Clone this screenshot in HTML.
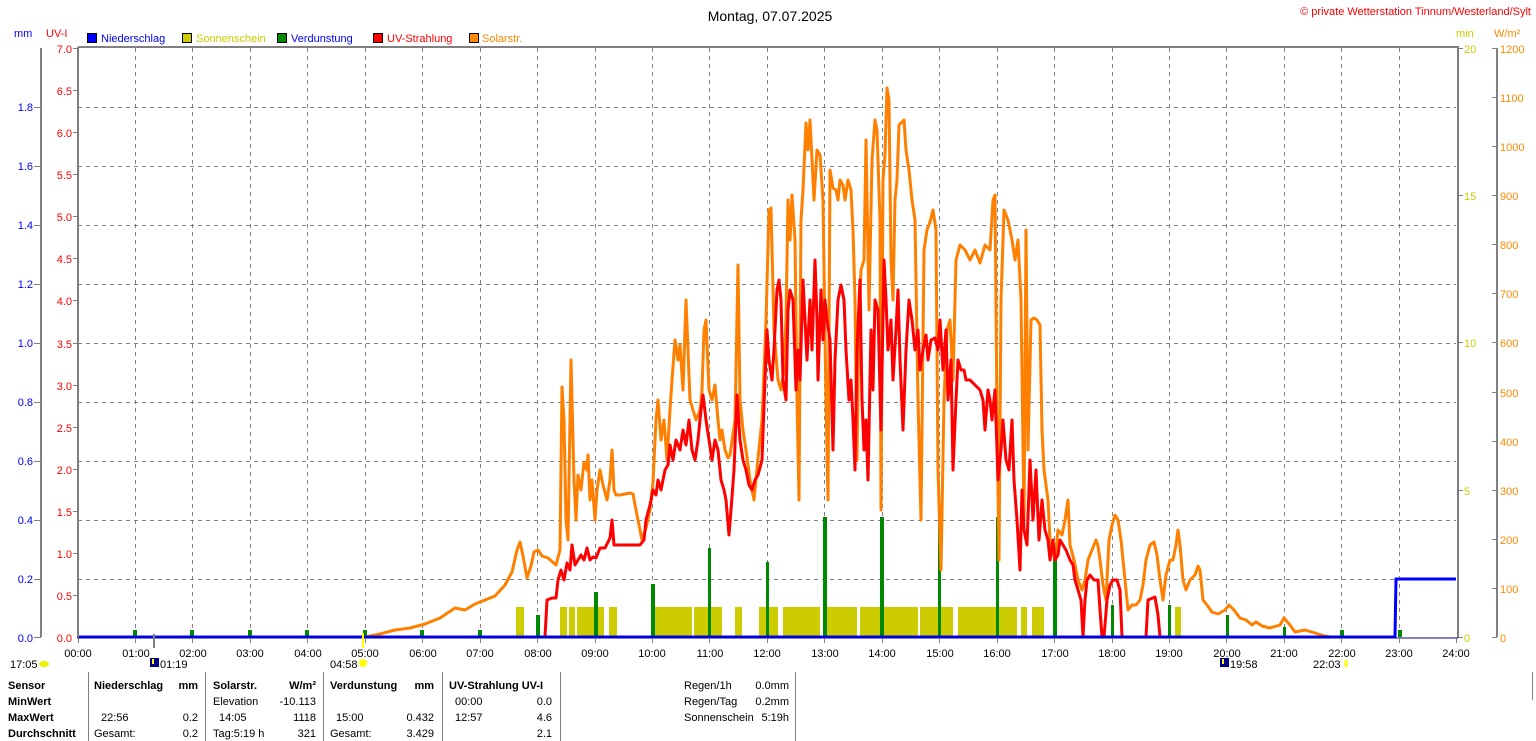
<!DOCTYPE html>
<html><head><meta charset="utf-8"><style>
html,body{margin:0;padding:0;background:#fff;}
svg{display:block;font-family:"Liberation Sans",Arial,sans-serif;font-size:11px;}
.b{font-weight:bold;}
</style></head><body>
<svg width="1536" height="741" viewBox="0 0 1536 741" xmlns="http://www.w3.org/2000/svg">
<rect width="1536" height="741" fill="#fff"/>
<text x="770" y="21" font-size="14" text-anchor="middle" fill="#000">Montag, 07.07.2025</text>
<text x="1531" y="15" text-anchor="end" fill="#f00">© private Wetterstation Tinnum/Westerland/Sylt</text>
<text x="14" y="37" fill="#00f">mm</text>
<text x="46" y="37" fill="#f00">UV-I</text>
<g stroke="#000" stroke-width="1">
<rect x="87.5" y="33.5" width="9" height="9" fill="#00f"/>
<rect x="182.5" y="33.5" width="9" height="9" fill="#cc0"/>
<rect x="277.5" y="33.5" width="9" height="9" fill="#080"/>
<rect x="373.5" y="33.5" width="9" height="9" fill="#f00"/>
<rect x="469.5" y="33.5" width="9" height="9" fill="#f80"/>
</g>
<text x="101" y="42" fill="#00f">Niederschlag</text>
<text x="196" y="42" fill="#cc0">Sonnenschein</text>
<text x="291" y="42" fill="#00f">Verdunstung</text>
<text x="387" y="42" fill="#f00">UV-Strahlung</text>
<text x="482" y="42" fill="#f80">Solarstr.</text>
<text x="1456" y="37" fill="#cc0">min</text>
<text x="1494" y="37" fill="#f80">W/m²</text>

<g stroke="#808080" stroke-width="1" stroke-dasharray="4,4" fill="none">
<path d="M78 107.5H1456M78 166.5H1456M78 225.5H1456M78 284.5H1456M78 343.5H1456M78 402.5H1456M78 461.5H1456M78 520.5H1456M78 579.5H1456"/>
<path d="M135.5 48V637M192.5 48V637M250.5 48V637M307.5 48V637M365.5 48V637M422.5 48V637M480.5 48V637M537.5 48V637M595.5 48V637M652.5 48V637M709.5 48V637M767.5 48V637M824.5 48V637M882.5 48V637M939.5 48V637M997.5 48V637M1054.5 48V637M1112.5 48V637M1169.5 48V637M1226.5 48V637M1284.5 48V637M1341.5 48V637M1399.5 48V637"/>
</g>

<!-- sunshine -->
<g fill="#cc0">
<rect x="516" y="607" width="8" height="30"/><rect x="560" y="607" width="7" height="30"/><rect x="569" y="607" width="6" height="30"/><rect x="577" y="607" width="27" height="30"/><rect x="609" y="607" width="8" height="30"/><rect x="654" y="607" width="38" height="30"/><rect x="694" y="607" width="28" height="30"/><rect x="735" y="607" width="7" height="30"/><rect x="759" y="607" width="19" height="30"/><rect x="783" y="607" width="37" height="30"/><rect x="823" y="607" width="34" height="30"/><rect x="860" y="607" width="58" height="30"/><rect x="920" y="607" width="33" height="30"/><rect x="958" y="607" width="59" height="30"/><rect x="1021" y="607" width="6" height="30"/><rect x="1032" y="607" width="12" height="30"/><rect x="1175" y="607" width="6" height="30"/>
</g>
<!-- evaporation -->
<g fill="#080">
<rect x="133" y="630" width="4" height="7"/><rect x="190" y="630" width="4" height="7"/><rect x="248" y="630" width="4" height="7"/><rect x="305" y="630" width="4" height="7"/><rect x="363" y="630" width="4" height="7"/><rect x="420" y="630" width="4" height="7"/><rect x="478" y="630" width="4" height="7"/>
<rect x="536" y="615" width="4" height="22"/><rect x="594" y="592" width="4" height="45"/><rect x="651" y="584" width="4" height="53"/><rect x="708" y="548" width="3" height="89"/><rect x="766" y="562" width="3" height="75"/><rect x="823" y="517" width="4" height="120"/><rect x="880" y="517" width="4" height="120"/><rect x="938" y="511" width="3" height="126"/><rect x="996" y="517" width="3" height="120"/><rect x="1053" y="555" width="4" height="82"/><rect x="1111" y="605" width="3" height="32"/><rect x="1168" y="605" width="3" height="32"/><rect x="1226" y="615" width="3" height="22"/><rect x="1283" y="627" width="3" height="10"/><rect x="1340" y="630" width="4" height="7"/><rect x="1398" y="630" width="4" height="7"/>
</g>

<polyline fill="none" stroke="#ff8000" stroke-width="3" stroke-linejoin="round" points="365,637 380,634 395,630 410,628 425,624 440,618 455,608 465,610 475,604 485,600 495,596 505,585 512,572 517,550 520,542 523,556 527,578 531,566 534,552 538,550 542,556 548,558 556,565 560,550 562,387 564,420 566,520 568,540 571,360 574,480 576,520 578,475 581,490 584,462 587,470 588,455 590,500 592,480 595,520 597,490 600,470 603,485 607,500 610,480 612,450 614,490 616,495 620,495 630,493 633,494 636,510 640,530 642,540 646,528 650,510 653,482 656,420 658,400 661,440 664,420 667,460 670,410 672,380 675,340 678,360 680,345 683,390 686,300 688,350 690,400 693,410 696,420 700,410 702,390 704,330 706,320 709,390 712,400 715,385 718,420 720,440 722,430 725,450 728,458 730,455 735,420 738,265 740,400 743,430 746,450 750,480 754,500 758,458 762,420 766,320 769,210 771,208 774,330 778,380 781,390 784,370 786,320 788,200 790,240 792,195 795,240 797,400 799,500 801,220 803,190 806,123 808,150 810,120 812,160 814,200 817,150 820,155 823,200 826,400 828,500 830,170 833,188 836,190 838,200 840,180 843,185 845,200 848,180 851,190 853,230 855,300 857,460 859,320 861,270 864,260 866,140 869,310 872,160 875,120 877,130 880,220 881,510 883,180 885,155 887,88 889,100 891,260 893,300 895,200 897,180 899,125 904,120 906,150 909,170 912,200 915,220 918,400 921,520 924,250 927,230 930,222 933,210 936,230 938,470 941,570 944,400 947,330 950,320 953,380 956,260 960,245 965,250 970,260 975,250 980,263 985,245 990,250 993,200 995,195 997,420 999,560 1001,300 1004,210 1008,220 1012,240 1015,260 1018,240 1021,300 1024,520 1026,230 1028,450 1031,320 1034,318 1037,320 1040,325 1042,430 1044,470 1048,500 1050,540 1055,560 1058,530 1062,535 1065,520 1068,500 1070,545 1074,560 1078,580 1082,590 1085,580 1088,560 1092,550 1096,540 1098,546 1100,560 1103,585 1106,600 1109,540 1112,525 1115,515 1118,520 1121,540 1124,570 1128,610 1132,605 1136,605 1140,600 1143,585 1146,560 1150,545 1154,542 1157,555 1160,580 1163,600 1166,575 1170,560 1173,560 1176,545 1178,530 1180,545 1183,580 1186,590 1190,580 1195,575 1198,566 1200,570 1203,600 1207,605 1212,612 1218,614 1225,610 1229,605 1234,610 1240,618 1246,620 1252,625 1256,622 1262,626 1270,628 1280,625 1284,618 1290,625 1295,632 1305,630 1315,633 1325,636 1330,637"/>

<polyline fill="none" stroke="#f00" stroke-width="3" stroke-linejoin="round" points="545,637 547,600 552,598 556,598 558,580 561,570 564,580 567,563 570,570 572,545 575,565 578,560 581,555 584,560 587,548 590,560 593,557 596,558 600,548 605,548 610,538 612,520 614,545 617,545 620,545 640,545 644,540 646,520 650,505 653,490 656,495 658,480 661,490 665,470 668,465 670,445 673,460 676,440 680,450 683,430 686,445 689,420 692,450 695,460 698,440 701,410 703,395 706,420 709,440 712,460 715,440 718,450 721,480 724,490 726,500 729,535 731,510 734,470 737,395 740,440 743,460 746,470 749,485 752,490 755,480 758,475 762,460 765,380 767,330 769,360 772,380 774,350 777,290 779,280 781,300 783,380 786,400 788,310 790,290 793,300 796,390 798,350 800,380 803,280 805,320 807,360 810,300 812,350 815,260 817,320 818,380 821,290 823,340 825,300 827,320 830,340 833,450 835,360 838,300 841,285 844,300 846,350 849,400 851,380 853,420 855,470 857,350 860,280 862,400 864,450 866,420 868,480 871,330 873,390 875,300 878,310 881,430 884,260 886,300 888,350 891,320 893,380 896,330 898,290 900,360 903,430 906,350 909,300 912,320 915,350 918,330 920,370 923,350 926,335 928,360 931,340 935,338 938,350 940,320 943,370 946,330 948,400 951,360 953,470 956,400 958,360 961,370 964,370 966,380 970,380 975,385 980,390 983,400 985,430 988,390 990,400 992,420 995,390 998,480 1001,450 1003,420 1006,460 1009,470 1012,420 1014,480 1017,520 1020,570 1022,490 1024,530 1027,545 1030,460 1033,520 1036,470 1039,540 1042,500 1045,530 1048,540 1050,560 1053,540 1055,560 1058,555 1060,540 1063,545 1066,550 1070,560 1073,565 1075,580 1078,590 1081,600 1083,637 1085,600 1087,580 1090,575 1094,580 1098,580 1100,610 1102,637 1104,637 1107,600 1110,585 1113,580 1117,580 1120,590 1122,637 1146,637 1148,600 1155,597 1158,615 1160,637"/>

<polyline fill="none" stroke="#00f" stroke-width="3" points="78,637 1395,637 1396,579 1456,579"/>

<!-- frame -->
<g stroke="#808080" stroke-width="2" fill="none">
<path d="M78 47H1458V638"/>
<path d="M78 47V638"/>
<path d="M41 48V637"/>
<path d="M1497 48V637"/>
</g>
<path d="M77 638H1458" stroke="#000080" stroke-width="1"/>
<!-- ticks -->
<g stroke="#808080" stroke-width="1">
<path d="M34 107.5H41M34 166.5H41M34 225.5H41M34 284.5H41M34 343.5H41M34 402.5H41M34 461.5H41M34 520.5H41M34 579.5H41M34 637.5H41"/>
<path d="M73 48.5H78M73 90.5H78M73 132.5H78M73 174.5H78M73 216.5H78M73 258.5H78M73 300.5H78M73 343.5H78M73 385.5H78M73 427.5H78M73 469.5H78M73 511.5H78M73 553.5H78M73 595.5H78"/>
<path d="M1458 48.5H1463M1458 195.5H1463M1458 342.5H1463M1458 490.5H1463M1458 637.5H1463"/>
<path d="M1492 48.5H1497M1492 97.5H1497M1492 146.5H1497M1492 195.5H1497M1492 244.5H1497M1492 293.5H1497M1492 342.5H1497M1492 392.5H1497M1492 441.5H1497M1492 490.5H1497M1492 539.5H1497M1492 588.5H1497M1492 637.5H1497"/>
<path d="M78.5 638V643M135.5 638V643M192.5 638V643M250.5 638V643M307.5 638V643M365.5 638V643M422.5 638V643M480.5 638V643M537.5 638V643M595.5 638V643M652.5 638V643M709.5 638V643M767.5 638V643M824.5 638V643M882.5 638V643M939.5 638V643M997.5 638V643M1054.5 638V643M1112.5 638V643M1169.5 638V643M1226.5 638V643M1284.5 638V643M1341.5 638V643M1399.5 638V643M1456.5 638V643"/>
</g>
<path d="M154 634V648" stroke="#808080" stroke-width="2"/>
<path d="M363 633V648" stroke="#ff0" stroke-width="2"/>
<path d="M1346 660V667" stroke="#ff0" stroke-width="3"/>

<g fill="#00f" text-anchor="end">
<text x="33" y="111">1.8</text><text x="33" y="170">1.6</text><text x="33" y="229">1.4</text><text x="33" y="288">1.2</text><text x="33" y="347">1.0</text><text x="33" y="406">0.8</text><text x="33" y="465">0.6</text><text x="33" y="524">0.4</text><text x="33" y="583">0.2</text><text x="33" y="642">0.0</text>
</g>
<g fill="#f00" text-anchor="end">
<text x="72" y="53">7.0</text><text x="72" y="95">6.5</text><text x="72" y="137">6.0</text><text x="72" y="179">5.5</text><text x="72" y="221">5.0</text><text x="72" y="263">4.5</text><text x="72" y="305">4.0</text><text x="72" y="348">3.5</text><text x="72" y="390">3.0</text><text x="72" y="432">2.5</text><text x="72" y="474">2.0</text><text x="72" y="516">1.5</text><text x="72" y="558">1.0</text><text x="72" y="600">0.5</text><text x="72" y="642">0.0</text>
</g>
<g fill="#cc0">
<text x="1464" y="53">20</text><text x="1464" y="200">15</text><text x="1464" y="347">10</text><text x="1464" y="495">5</text><text x="1464" y="642">0</text>
</g>
<g fill="#f80">
<text x="1500" y="53">1200</text><text x="1500" y="102">1100</text><text x="1500" y="151">1000</text><text x="1500" y="200">900</text><text x="1500" y="249">800</text><text x="1500" y="298">700</text><text x="1500" y="347">600</text><text x="1500" y="397">500</text><text x="1500" y="446">400</text><text x="1500" y="495">300</text><text x="1500" y="544">200</text><text x="1500" y="593">100</text><text x="1500" y="642">0</text>
</g>
<g fill="#000" text-anchor="middle">
<text x="78" y="657">00:00</text><text x="136" y="657">01:00</text><text x="193" y="657">02:00</text><text x="250" y="657">03:00</text><text x="308" y="657">04:00</text><text x="365" y="657">05:00</text><text x="423" y="657">06:00</text><text x="480" y="657">07:00</text><text x="538" y="657">08:00</text><text x="595" y="657">09:00</text><text x="652" y="657">10:00</text><text x="710" y="657">11:00</text><text x="767" y="657">12:00</text><text x="825" y="657">13:00</text><text x="882" y="657">14:00</text><text x="940" y="657">15:00</text><text x="997" y="657">16:00</text><text x="1055" y="657">17:00</text><text x="1112" y="657">18:00</text><text x="1169" y="657">19:00</text><text x="1227" y="657">20:00</text><text x="1284" y="657">21:00</text><text x="1342" y="657">22:00</text><text x="1399" y="657">23:00</text><text x="1456" y="657">24:00</text>
</g>
<!-- sun/moon markers -->
<text x="10" y="668">17:05</text>
<ellipse cx="44" cy="664" rx="5" ry="3" fill="#ee0"/>
<rect x="150" y="658" width="9" height="9" fill="#008"/><path d="M153 659V664" stroke="#ff0" stroke-width="2"/>
<text x="160" y="668">01:19</text>
<text x="330" y="668">04:58</text>
<circle cx="363" cy="663" r="4" fill="#ff0"/>
<rect x="1220" y="658" width="9" height="9" fill="#008"/><path d="M1223 659V664" stroke="#ff0" stroke-width="2"/>
<text x="1230" y="668">19:58</text>
<text x="1313" y="668">22:03</text>

<!-- table -->
<g stroke="#808080" stroke-width="1">
<path d="M88.5 672V741M205.5 672V741M323.5 672V741M442.5 672V741M560.5 672V741M795.5 672V741M1532.5 672V700"/>
</g>
<g fill="#000">
<text x="8" y="689" class="b">Sensor</text>
<text x="94" y="689" class="b">Niederschlag</text><text x="198" y="689" class="b" text-anchor="end">mm</text>
<text x="213" y="689" class="b">Solarstr.</text><text x="316" y="689" class="b" text-anchor="end">W/m²</text>
<text x="330" y="689" class="b">Verdunstung</text><text x="434" y="689" class="b" text-anchor="end">mm</text>
<text x="449" y="689" class="b">UV-Strahlung UV-I</text>
<text x="8" y="705" class="b">MinWert</text>
<text x="213" y="705">Elevation</text><text x="316" y="705" text-anchor="end">-10.113</text>
<text x="455" y="705">00:00</text><text x="552" y="705" text-anchor="end">0.0</text>
<text x="8" y="721" class="b">MaxWert</text>
<text x="101" y="721">22:56</text><text x="198" y="721" text-anchor="end">0.2</text>
<text x="219" y="721">14:05</text><text x="316" y="721" text-anchor="end">1118</text>
<text x="336" y="721">15:00</text><text x="434" y="721" text-anchor="end">0.432</text>
<text x="455" y="721">12:57</text><text x="552" y="721" text-anchor="end">4.6</text>
<text x="8" y="737" class="b">Durchschnitt</text>
<text x="94" y="737">Gesamt:</text><text x="198" y="737" text-anchor="end">0.2</text>
<text x="213" y="737">Tag:5:19 h</text><text x="316" y="737" text-anchor="end">321</text>
<text x="330" y="737">Gesamt:</text><text x="434" y="737" text-anchor="end">3.429</text>
<text x="552" y="737" text-anchor="end">2.1</text>
<text x="684" y="689">Regen/1h</text><text x="789" y="689" text-anchor="end">0.0mm</text>
<text x="684" y="705">Regen/Tag</text><text x="789" y="705" text-anchor="end">0.2mm</text>
<text x="684" y="721">Sonnenschein</text><text x="789" y="721" text-anchor="end">5:19h</text>
</g>
</svg>
</body></html>
